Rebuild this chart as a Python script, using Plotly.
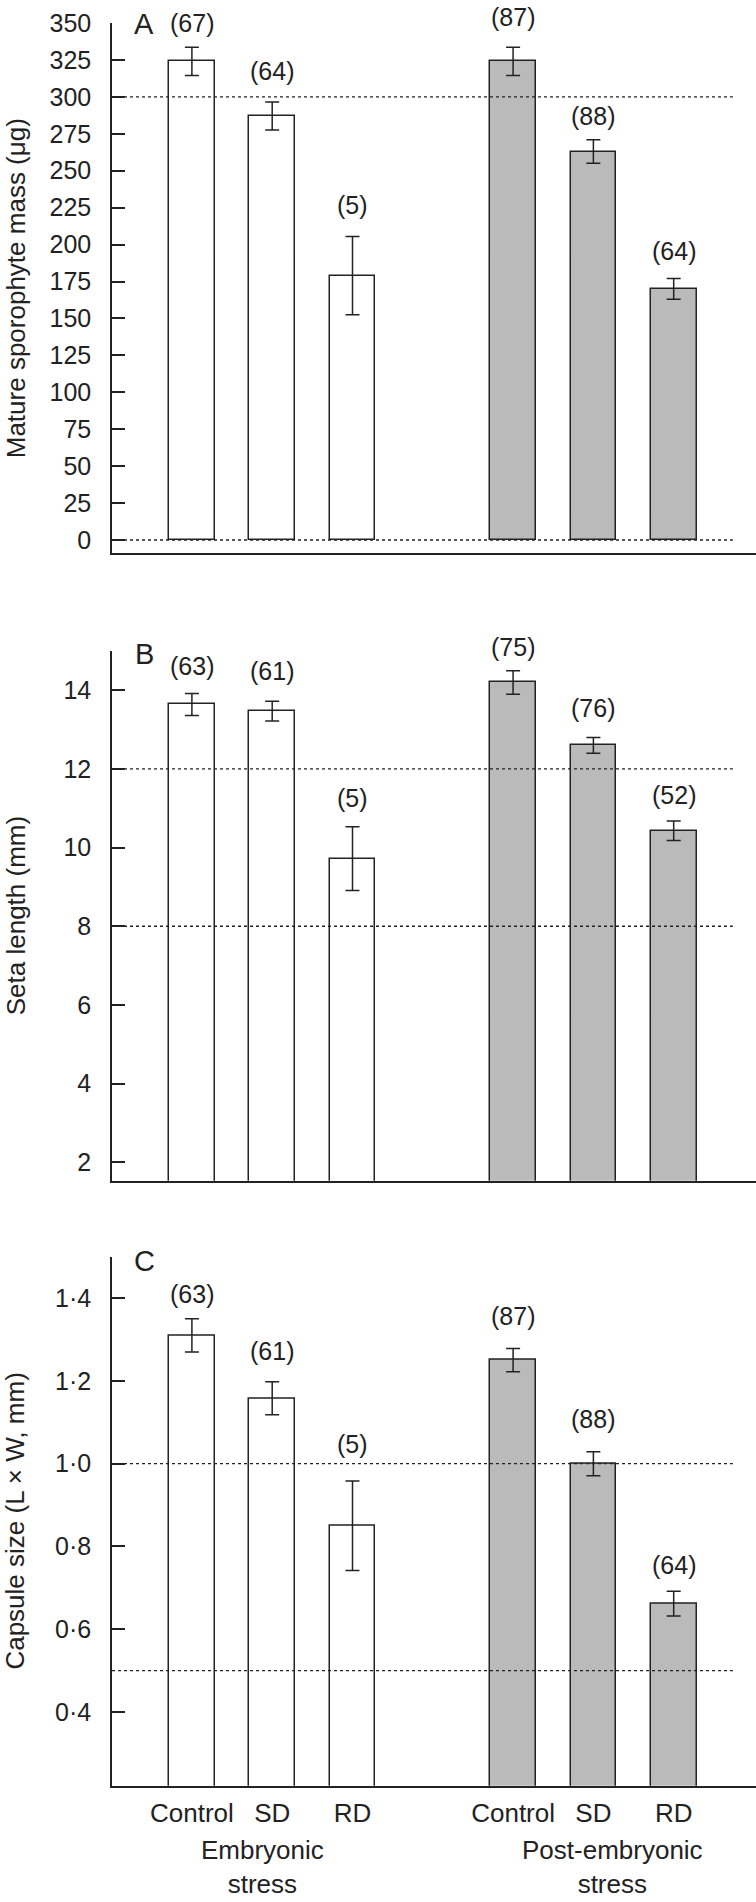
import plotly.graph_objects as go

# ---------------- data ----------------
treatments = ["Control", "SD", "RD", "Control", "SD", "RD"]
positions = [0, 1, 2, 4, 5, 6]
group_names = ["Embryonic<br>stress", "Post-embryonic<br>stress"]
is_post = [False, False, False, True, True, True]

mass_mean = [324, 287, 179, 324, 263, 170]
mass_err = [9.5, 9.5, 26.5, 9.5, 8, 7]
mass_n = [67, 64, 5, 87, 88, 64]

seta_mean = [13.64, 13.47, 9.72, 14.2, 12.6, 10.43]
seta_err = [0.28, 0.25, 0.81, 0.3, 0.2, 0.25]
seta_n = [63, 61, 5, 75, 76, 52]

caps_mean = [1.31, 1.158, 0.85, 1.25, 1.0, 0.662]
caps_err = [0.04, 0.04, 0.108, 0.028, 0.029, 0.03]
caps_n = [63, 61, 5, 87, 88, 64]

mass_ticks = list(range(0, 351, 25))
seta_ticks = [2, 4, 6, 8, 10, 12, 14]
caps_ticks = [0.4, 0.6, 0.8, 1.0, 1.2, 1.4]
caps_ticktext = ["0·4", "0·6", "0·8", "1·0", "1·2", "1·4"]

mass_ref = [0, 300]
seta_ref = [8, 12]
caps_ref = [0.5, 1.0]

# ---------------- style ----------------
W, H = 756, 1902
INK = "#222222"
GREY = "#bababa"
FONT = "Liberation Sans, Arial, Helvetica, sans-serif"
XRANGE = [-0.995, 7.025]

panels = [
    dict(mean=mass_mean, err=mass_err, n=mass_n, letter="A",
         title="Mature sporophyte mass (μg)", yrange=[-8.6, 350],
         ticks=mass_ticks, ticktext=[str(t) for t in mass_ticks],
         ref=mass_ref, px=(23, 552.7), letter_y=0.998,
         gaps=[24, 31, 31, 30, 24, 28]),
    dict(mean=seta_mean, err=seta_err, n=seta_n, letter="B",
         title="Seta length (mm)", yrange=[1.53, 15],
         ticks=seta_ticks, ticktext=[str(t) for t in seta_ticks],
         ref=seta_ref, px=(651, 1180.7), letter_y=0.994,
         gaps=[27, 30, 29, 24, 30, 26]),
    dict(mean=caps_mean, err=caps_err, n=caps_n, letter="C",
         title="Capsule size (L × W, mm)", yrange=[0.222, 1.5],
         ticks=caps_ticks, ticktext=caps_ticktext,
         ref=caps_ref, px=(1256.7, 1785.7), letter_y=0.991,
         gaps=[25, 31, 37, 33, 33, 26]),
]

fig = go.Figure()
annotations = []
shapes = []

for i, p in enumerate(panels):
    k = "" if i == 0 else str(i + 1)
    xa, ya = "x" + k, "y" + k
    fig.add_trace(go.Bar(
        x=positions, y=p["mean"], width=0.57,
        marker=dict(color=[GREY if post else "white" for post in is_post],
                    line=dict(color=INK, width=1.5)),
        error_y=dict(type="data", array=p["err"], visible=True,
                     color=INK, thickness=1.5, width=7),
        xaxis=xa, yaxis=ya, showlegend=False, hoverinfo="skip"))

    top, bot = p["px"]
    dom = [1 - bot / H, 1 - top / H]
    last = (i == 2)
    fig.layout["xaxis" + k] = dict(
        domain=[0, 1], range=XRANGE, anchor=ya, automargin=False,
        showline=True, linecolor=INK, linewidth=1.5, mirror=False,
        ticks="", showgrid=False, zeroline=False,
        tickvals=positions if last else [],
        ticktext=treatments if last else [],
        showticklabels=last, ticklabelstandoff=3,
        tickfont=dict(family=FONT, size=26, color=INK))
    fig.layout["yaxis" + k] = dict(
        domain=dom, range=p["yrange"], anchor=xa, automargin=False,
        showline=True, linecolor=INK, linewidth=1.5,
        ticks="inside", ticklen=13, tickwidth=1.5, tickcolor=INK,
        tickvals=p["ticks"], ticktext=p["ticktext"],
        ticklabelstandoff=14,
        showgrid=False, zeroline=False,
        tickfont=dict(family=FONT, size=25, color=INK))

    for r in p["ref"]:
        shapes.append(dict(type="line", xref=xa + " domain", yref=ya,
                           x0=0, x1=0.964, y0=r, y1=r, layer="above",
                           line=dict(color=INK, width=1.3, dash="3px,3px")))

    for xpos, m, e, n, g in zip(positions, p["mean"], p["err"], p["n"], p["gaps"]):
        annotations.append(dict(x=xpos, y=m + e, xref=xa, yref=ya,
                                text=f"({n})", showarrow=False,
                                yanchor="middle", yshift=g,
                                font=dict(family=FONT, size=25, color=INK)))

    annotations.append(dict(x=0.0497, y=p["letter_y"], xref=xa + " domain",
                            yref=ya + " domain", text=p["letter"],
                            showarrow=False, xanchor="center", yanchor="middle",
                            font=dict(family=FONT, size=29, color=INK)))
    annotations.append(dict(x=-0.150, y=0.5, xref="paper", yref=ya + " domain",
                            text=p["title"], textangle=-90, showarrow=False,
                            xanchor="center", yanchor="middle",
                            font=dict(family=FONT, size=26, color=INK)))

group_x = [0.885, 5.24]
for gx, label in zip(group_x, group_names):
    annotations.append(dict(x=gx, y=0, xref="x3", yref="paper",
                            text=label, showarrow=False,
                            xanchor="center", yanchor="bottom", yshift=1,
                            font=dict(family=FONT, size=26, color=INK)))

fig.update_layout(
    template="none",
    width=W, height=H,
    margin=dict(l=112, r=0, t=0, b=0, pad=0, autoexpand=False),
    paper_bgcolor="white", plot_bgcolor="white",
    bargap=0, annotations=annotations, shapes=shapes,
    font=dict(family=FONT, color=INK),
)

fig.write_html("out.html", config={"displayModeBar": False},
               post_script="document.body.style.margin='0';document.body.style.padding='0';")
